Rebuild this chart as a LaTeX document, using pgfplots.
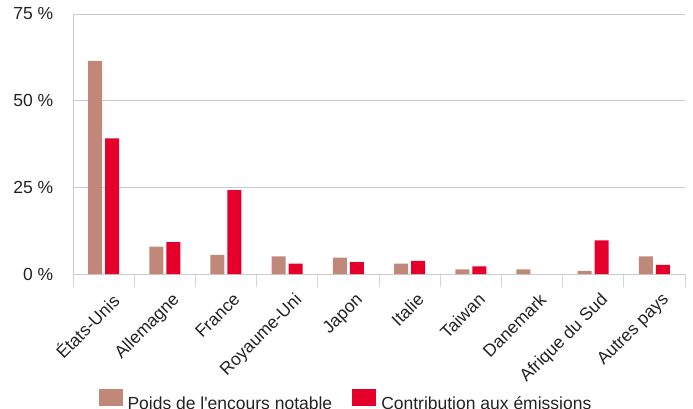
\documentclass[border=0pt]{standalone}
\usepackage{fontspec}
\setmainfont{Liberation Sans}
\usepackage{pgfplots}
\pgfplotsset{compat=1.18}
\definecolor{cbrown}{RGB}{192,136,121}
\definecolor{cred}{RGB}{228,0,43}
\definecolor{cgrid}{RGB}{204,204,204}
\definecolor{ctick}{RGB}{205,214,232}
\definecolor{ctext}{RGB}{34,34,34}
\begin{document}
\begin{tikzpicture}
\path[use as bounding box] (-73bp,-135bp) rectangle (620bp,274bp);
\begin{axis}[
  at={(0,0)}, anchor=south west,
  scale only axis, width=612bp, height=260bp,
  ybar=3bp, bar width=14bp,
  xmin=-0.5, xmax=9.5, ymin=0, ymax=75,
  axis lines*=left,
  axis line style={cgrid, line width=0.8pt},
  ytick={0,25,50,75},
  yticklabels={0 \%,25 \%,50 \%,75 \%},
  ymajorgrids, grid style={cgrid, line width=0.8pt},
  ytick style={draw=none},
  xtick={0,...,9},
  xticklabels={États-Unis,Allemagne,France,Royaume-Uni,Japon,Italie,Taiwan,Danemark,Afrique du Sud,Autres pays},
  xtick style={draw=none},
  minor xtick={-0.5,0.5,...,9.5},
  minor tick length=13bp,
  tick align=outside,
  minor x tick style={draw=ctick, line width=0.8pt},
  xticklabel style={rotate=45, anchor=north east, inner sep=1bp, yshift=-13bp, xshift=-4bp},
  yticklabel style={xshift=-12bp},
  tick label style={font=\fontsize{17.5bp}{20bp}\selectfont, text=ctext},
  legend columns=2,
  legend style={at={(0.446,-0.485)}, anchor=center, draw=none, fill=none,
    font=\fontsize{17.5bp}{20bp}\selectfont, text=ctext,
    nodes={inner ysep=0pt},
    /tikz/every even column/.append style={column sep=18bp}},
  legend image code/.code={\fill[#1] (0bp,-2bp) rectangle (24bp,15bp); \path (27bp,0bp);},
]
\addplot[fill=cbrown, draw=none] coordinates {(0,61.5) (1,7.9) (2,5.5) (3,5.1) (4,4.7) (5,3.0) (6,1.35) (7,1.35) (8,0.9) (9,5.1)};
\addplot[fill=cred, draw=none] coordinates {(0,39.1) (1,9.2) (2,24.2) (3,3.0) (4,3.4) (5,3.8) (6,2.2) (8,9.7) (9,2.6)};
\legend{Poids de l\textquotesingle encours notable, Contribution aux émissions}
\end{axis}
\end{tikzpicture}
\end{document}
